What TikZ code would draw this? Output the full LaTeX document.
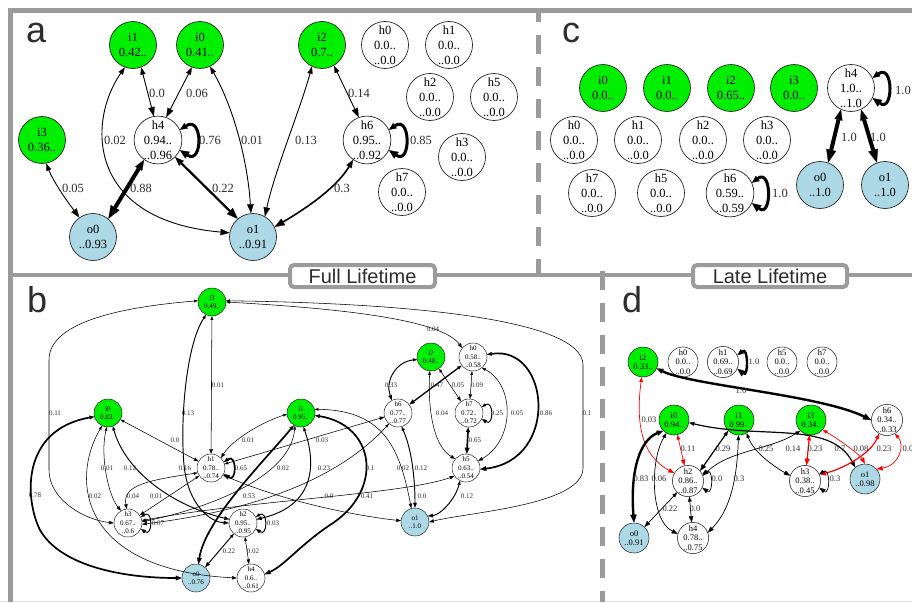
\documentclass[tikz,border=0pt]{standalone}
\usepackage{fontspec}
\setmainfont{Liberation Serif}
\newfontfamily\lsans{Liberation Sans}
\usetikzlibrary{arrows.meta}
\definecolor{grn}{HTML}{00EE00}
\definecolor{lb}{HTML}{ADD8E6}
\definecolor{frm}{RGB}{155,155,155}
\definecolor{txt}{RGB}{45,45,45}
\tikzset{
  E/.style n args={3}{draw, line width=#1,
    {Triangle[length=#2,width=#3,line width=0.2pt,scale=0.8]}-{Triangle[length=#2,width=#3,line width=0.2pt]}},
  eA/.style={E={0.9pt}{9pt}{6.5pt}},
  eA2/.style={E={1.6pt}{10pt}{7.5pt}},
  eA3/.style={E={2.2pt}{11pt}{8.5pt}},
  eA4/.style={E={4pt}{13pt}{10pt}},
  eAL/.style={E={3pt}{9pt}{8pt}},
  eB/.style={E={0.55pt}{4.6pt}{3.4pt}},
  eB2/.style={E={0.95pt}{5pt}{3.8pt}},
  eB3/.style={E={1.7pt}{6pt}{4.8pt}},
  eD/.style={E={0.7pt}{6pt}{4.5pt}},
  eD2/.style={E={1.2pt}{6.5pt}{5pt}},
  eD3/.style={E={2.4pt}{8pt}{6.5pt}},
  nA/.style={circle, draw=black!85, line width=0.7pt, inner sep=0pt, minimum size=47pt, align=center, text=black, font=\fontsize{12.5}{15}\selectfont},
  gA/.style={nA, fill=grn}, bA/.style={nA, fill=lb}, wA/.style={nA, fill=white},
  nB/.style={circle, draw=black!85, line width=0.5pt, inner sep=0pt, minimum size=28pt, align=center, text=black, font=\fontsize{7}{8.5}\selectfont},
  gB/.style={nB, fill=grn}, bB/.style={nB, fill=lb}, wB/.style={nB, fill=white},
  nD/.style={circle, draw=black!85, line width=0.55pt, inner sep=0pt, minimum size=30pt, align=center, text=black, font=\fontsize{8.5}{9.3}\selectfont},
  gD/.style={nD, fill=grn}, bD/.style={nD, fill=lb}, wD/.style={nD, fill=white},
  lA/.style={inner sep=0pt, text=txt, font=\fontsize{12.5}{15}\selectfont},
  lB/.style={inner sep=0pt, text=txt, font=\fontsize{7}{8}\selectfont},
  lD/.style={inner sep=0pt, text=txt, font=\fontsize{8.5}{9}\selectfont},
  plet/.style={inner sep=0pt, anchor=base west, text=txt, font=\lsans\fontsize{36}{36}\selectfont},
  lbox/.style={draw=frm, line width=4pt, rounded corners=4pt, fill=white, minimum height=22pt, inner sep=0pt, text=txt, font=\lsans\fontsize{20}{20}\selectfont},
}
\begin{document}
\begin{tikzpicture}[x=1pt,y=-1pt]
\useasboundingbox (0,0) rectangle (912,602);
\fill[white] (0,0) rectangle (912,602);
% ---------- frame ----------
\draw[black!12, line width=1pt] (0,601) -- (912,601);
\draw[frm, line width=4.5pt] (912,10.5) -- (10.5,10.5) -- (10.5,602);
\draw[frm, line width=4pt] (10.5,275) -- (912,275);
\draw[frm, line width=5pt, dash pattern=on 19pt off 13pt, dash phase=5pt] (538,8) -- (538,275);
\draw[frm, line width=5pt, dash pattern=on 19pt off 13pt] (602,271) -- (602,602);
\node[lbox, minimum width=145pt] (full) at (362.5,276) {Full Lifetime};
\node[lbox, minimum width=154pt] (late) at (770,276) {Late Lifetime};
\node[plet] (pa) at (26,43) {a};
\node[plet] (pc) at (562,43) {c};
\node[plet] (pb) at (27,312) {b};
\node[plet] (pd) at (622,312) {d};

% ---------- panel a ----------
\node[gA] (ai1) at (133,45) {i1\\0.42..};
\node[gA] (ai0) at (200,45) {i0\\0.41..};
\node[gA] (ai2) at (322,45) {i2\\0.7..};
\node[gA] (ai3) at (42,140) {i3\\0.36..};
\node[wA] (ah4) at (158,140) {h4\\0.94..\\..0.96};
\node[bA] (ao0) at (93,237) {o0\\..0.93};
\node[bA] (ao1) at (253,237) {o1\\..0.91};
\node[wA] (ah6) at (367,140) {h6\\0.95..\\..0.92};
\node[wA] (ah0) at (385,45) {h0\\0.0..\\..0.0};
\node[wA] (ah1) at (449,45) {h1\\0.0..\\..0.0};
\node[wA] (ah2) at (430,97) {h2\\0.0..\\..0.0};
\node[wA] (ah5) at (494,97) {h5\\0.0..\\..0.0};
\node[wA] (ah3) at (462,157) {h3\\0.0..\\..0.0};
\node[wA] (ah7) at (402,192) {h7\\0.0..\\..0.0};
\draw[eA] (ai1.-70) -- (ah4.100);
\draw[eA] (ai0.250) -- (ah4.70);
\draw[eA] (ai1.250) .. controls (88,120) and (85,220) .. (ao1.170);
\draw[eA] (ai0.-65) .. controls (235,110) and (248,165) .. (ao1.95);
\draw[eA] (ai2.245) .. controls (300,110) and (275,170) .. (ao1.60);
\draw[eA] (ai2.-60) -- (ah6.110);
\draw[eA2] (ah6.235) .. controls (335,190) and (300,212) .. (ao1.25);
\draw[eA4] (ah4.235) -- (ao0.50);
\draw[eA3] (ah4.-45) -- (ao1.130);
\draw[eA] (ai3.-80) .. controls (55,185) and (70,205) .. (ao0.125);
\draw[eAL] (ah4.25) .. controls +(23,-15) and +(23,15) .. (ah4.-25);
\draw[eAL] (ah6.25) .. controls +(22,-15) and +(22,15) .. (ah6.-25);
\foreach \x/\y/\t [count=\k] in {157/93/0.0, 197/93/0.06, 115/140/0.02, 210/140/0.76, 252/140/0.01, 73/188/0.05, 141/188/0.88, 223/188/0.22, 359/93/0.14, 306/140/0.13, 421/140/0.85, 342/188/0.3}
  \node[lA] (la\k) at (\x,\y) {\t};

% ---------- panel c ----------
\node[gA] (ci0) at (603,88) {i0\\0.0..};
\node[gA] (ci1) at (667,88) {i1\\0.0..};
\node[gA] (ci2) at (731,88) {i2\\0.65..};
\node[gA] (ci3) at (794,88) {i3\\0.0..};
\node[wA] (ch4) at (851,88) {h4\\1.0..\\..1.0};
\node[wA] (ch0) at (574,140) {h0\\0.0..\\..0.0};
\node[wA] (ch1) at (638,140) {h1\\0.0..\\..0.0};
\node[wA] (ch2) at (703,140) {h2\\0.0..\\..0.0};
\node[wA] (ch3) at (767,140) {h3\\0.0..\\..0.0};
\node[wA] (ch7) at (592,193) {h7\\0.0..\\..0.0};
\node[wA] (ch5) at (661,193) {h5\\0.0..\\..0.0};
\node[wA] (ch6) at (730,193) {h6\\0.59..\\..0.59};
\node[bA] (co0) at (820,185) {o0\\..1.0};
\node[bA] (co1) at (885,185) {o1\\..1.0};
\draw[eA4] (ch4.245) -- (co0.70);
\draw[eA4] (ch4.-65) -- (co1.110);
\draw[eAL] (ch4.25) .. controls +(21,-15) and +(21,15) .. (ch4.-25);
\draw[eAL] (ch6.25) .. controls +(20,-15) and +(20,15) .. (ch6.-25);
\foreach \x/\y/\t [count=\k] in {903/90/1.0, 849/137/1.0, 878/137/1.0, 780/193/1.0}
  \node[lA] (lc\k) at (\x,\y) {\t};

% ---------- panel b ----------
\node[gB] (bi3) at (212,302) {i3\\0.49..};
\node[gB] (bi2) at (431,357) {i2\\0.48..};
\node[wB] (bh0) at (473,357) {h0\\0.58..\\..0.58};
\node[gB] (bi0) at (108,413) {i0\\0.83..};
\node[gB] (bi1) at (301,413) {i1\\0.95..};
\node[wB] (bh6) at (398,413) {h6\\0.77..\\..0.77};
\node[wB] (bh7) at (469,413) {h7\\0.72..\\..0.72};
\node[wB] (bh1) at (211,468) {h1\\0.78..\\..0.74};
\node[wB] (bh5) at (466,468) {h5\\0.63..\\..0.54};
\node[wB] (bh3) at (128,523) {h3\\0.67..\\..0.6};
\node[wB] (bh2) at (243,523) {h2\\0.95..\\..0.95};
\node[bB] (bo1) at (415,522) {o1\\..1.0};
\node[bB] (bo0) at (196,578) {o0\\..0.76};
\node[wB] (bh4) at (251,578) {h4\\0.6..\\..0.61};
\draw[eB] (bi3.east) .. controls (330,308) and (440,318) .. (bh0.140);
\draw[eB] (bi3.5) .. controls (400,303) and (583,318) .. (583,365) -- (583,468) .. controls (583,505) and (470,512) .. (bo1.east);
\draw[eB] (bi3.175) .. controls (110,308) and (49,325) .. (49,360) -- (49,470) .. controls (49,500) and (85,520) .. (bh3.180);
\draw[eB] (bi3) -- (bh1);
\draw[eB2] (bi3.245) .. controls (186,345) and (180,420) .. (184,465) .. controls (188,505) and (210,522) .. (bh2.180);
\draw[eB] (bi0) -- (bh1);
\draw[eB] (bi0.265) .. controls (100,455) and (108,495) .. (bh3.120);
\draw[eB2] (bi0.290) .. controls (125,470) and (170,505) .. (bh2.165);
\draw[eB] (bi0.245) .. controls (70,480) and (80,570) .. (bh4.180);
\draw[eB3] (bi0.195) .. controls (20,430) and (25,500) .. (40,530) .. controls (60,565) and (120,578) .. (bo0.180);
\draw[eB] (bh1.200) .. controls (150,480) and (122,485) .. (bh3.95);
\draw[eB] (bh1) -- (bh3);
\draw[eB3] (bh1.25) .. controls +(13,-9) and +(13,9) .. (bh1.-25);
\draw[eB] (bi1.185) .. controls (262,422) and (232,440) .. (bh1.45);
\draw[eB] (bi1.245) .. controls (290,480) and (200,510) .. (bh3.5);
\draw[eB] (bh1) -- (bh6);
\draw[eB] (bh6.230) .. controls (360,455) and (300,505) .. (bh3.-5);
\draw[eB2] (bi1.280) .. controls (315,460) and (318,505) .. (bh2.15);
\draw[eB] (bi1.15) .. controls (385,410) and (400,450) .. (bo1.105);
\draw[eB2] (bh6.285) .. controls (412,450) and (415,480) .. (bo1.north);
\draw[eB] (bh3.10) .. controls (250,500) and (400,495) .. (bh5.215);
\draw[eB] (bh1.-30) .. controls (280,500) and (350,515) .. (bo1.175);
\draw[eB2] (bh2) -- (bo0);
\draw[eB] (bh2) -- (bh4);
\draw[eB2] (bh2.25) .. controls +(12,-8) and +(12,8) .. (bh2.-25);
\draw[eB2] (bh3.25) .. controls +(12,-8) and +(12,8) .. (bh3.-25);
\draw[eB2] (bi2.190) .. controls (395,362) and (385,382) .. (bh6.115);
\draw[E={1.3pt}{5.5pt}{4.2pt}] (bh0) -- (bh6);
\draw[eB] (bi2) -- (bh7);
\draw[eB] (bh0) -- (bh7);
\draw[eB2] (bh7.25) .. controls +(12,-8) and +(12,8) .. (bh7.-25);
\draw[eB] (bi2.265) .. controls (428,405) and (432,445) .. (bh5.140);
\draw[eB] (bh0.-50) .. controls (515,385) and (515,440) .. (bh5.30);
\draw[eB3] (bh0.10) .. controls (550,345) and (560,460) .. (bh5.-5);
\draw[eB3] (bh7) -- (bh5);
\draw[eB2] (bh5.245) .. controls (455,500) and (440,515) .. (bo1.25);
\draw[eB3] (bi1.240) .. controls (265,460) and (205,520) .. (bo0.80);
\draw[eB3] (bi1.-10) .. controls (375,425) and (385,490) .. (330,525) .. controls (300,545) and (285,565) .. (bh4.15);
\foreach \x/\y/\t [count=\k] in {433/329/0.04, 587/413/0.1, 55/413/0.11, 218/385/0.01, 188/413/0.13, 185/468/0.16, 175/440/0.0, 107/468/0.01, 130/468/0.12, 95/496/0.02, 35/495/0.78, 133/496/0.04, 156/496/0.01, 241/468/0.65, 248/440/0.01, 283/468/0.02, 322/440/0.03, 249/496/0.53, 324/468/0.23, 403/468/0.02, 421/468/0.12, 422/496/0.0, 329/496/0.0, 229/551/0.22, 253/551/0.02, 273/523/0.03, 158/523/0.07, 391/385/0.33, 437/385/0.47, 458/385/0.05, 477/385/0.09, 497/413/0.25, 442/413/0.04, 517/413/0.05, 546/413/0.86, 475/440/0.65, 467/496/0.12, 370/468/0.1, 367/496/0.41}
  \node[lB] (lb\k) at (\x,\y) {\t};

% ---------- panel d ----------
\node[gD] (di2) at (643,362) {i2\\0.33..};
\node[wD] (dh0) at (683,362) {h0\\0.0..\\..0.0};
\node[wD] (dh1) at (723,362) {h1\\0.69..\\..0.69};
\node[wD] (dh5) at (782,362) {h5\\0.0..\\..0.0};
\node[wD] (dh7) at (822,362) {h7\\0.0..\\..0.0};
\node[gD] (di0) at (674,420) {i0\\0.94..};
\node[gD] (di1) at (739,420) {i1\\0.99..};
\node[gD] (di3) at (811,420) {i3\\0.34..};
\node[wD] (dh6) at (887,420) {h6\\0.34..\\..0.33};
\node[wD] (dh2) at (688,481) {h2\\0.86..\\..0.87};
\node[wD] (dh3) at (805,481) {h3\\0.38..\\..0.45};
\node[bD] (do1) at (865,479) {o1\\..0.98};
\node[bD] (do0) at (634,538) {o0\\..0.91};
\node[wD] (dh4) at (693,538) {h4\\0.78..\\..0.75};
\draw[eD3] (di2.-25) .. controls (690,385) and (820,395) .. (dh6.180);
\draw[eD, red] (di2.265) .. controls (636,420) and (640,455) .. (dh2.150);
\draw[eD3] (dh1.25) .. controls +(11,-9) and +(11,9) .. (dh1.-25);
\draw[eD, red] (di0) -- (dh2);
\draw[eD3] (di0.225) .. controls (640,440) and (630,470) .. (do0.north);
\draw[eD] (di0.240) .. controls (650,460) and (650,520) .. (dh4.165);
\draw[eD2] (di0.-10) .. controls (760,440) and (830,420) .. (do1.130);
\draw[eD2] (di1.225) -- (dh2.40);
\draw[eD] (di1.268) .. controls (737,480) and (730,510) .. (dh4.20);
\draw[eD] (di1.-60) .. controls (755,455) and (780,470) .. (dh3.160);
\draw[eD] (di3.225) .. controls (770,450) and (730,450) .. (dh2.20);
\draw[eD2, red] (di3) -- (dh3);
\draw[eD, red] (di3.-40) .. controls (840,440) and (860,455) .. (do1.north);
\draw[eD2, red] (dh6.240) .. controls (870,455) and (840,470) .. (dh3.25);
\draw[eD, red] (dh6.-60) .. controls (905,445) and (900,465) .. (do1.40);
\draw[eD] (dh2.25) .. controls +(11,-8) and +(11,8) .. (dh2.-25);
\draw[eD] (dh3.25) .. controls +(11,-8) and +(11,8) .. (dh3.-25);
\draw[eD] (dh2) -- (do0);
\draw[eD] (dh2) -- (dh4);
\foreach \x/\y/\t [count=\k] in {649/420/0.03, 688/449/0.11, 723/449/0.29, 766/449/0.25, 793/449/0.14, 815/449/0.23, 840/449/0.7, 861/449/0.08, 884/449/0.23, 908/449/0.0, 641/479/0.83, 659/479/0.06, 717/479/0.0, 739/479/0.3, 835/479/0.3, 670/509/0.22, 695/509/0.0, 754/362/1.0, 741/391/1.0}
  \node[lD] (ld\k) at (\x,\y) {\t};
\end{tikzpicture}
\end{document}
